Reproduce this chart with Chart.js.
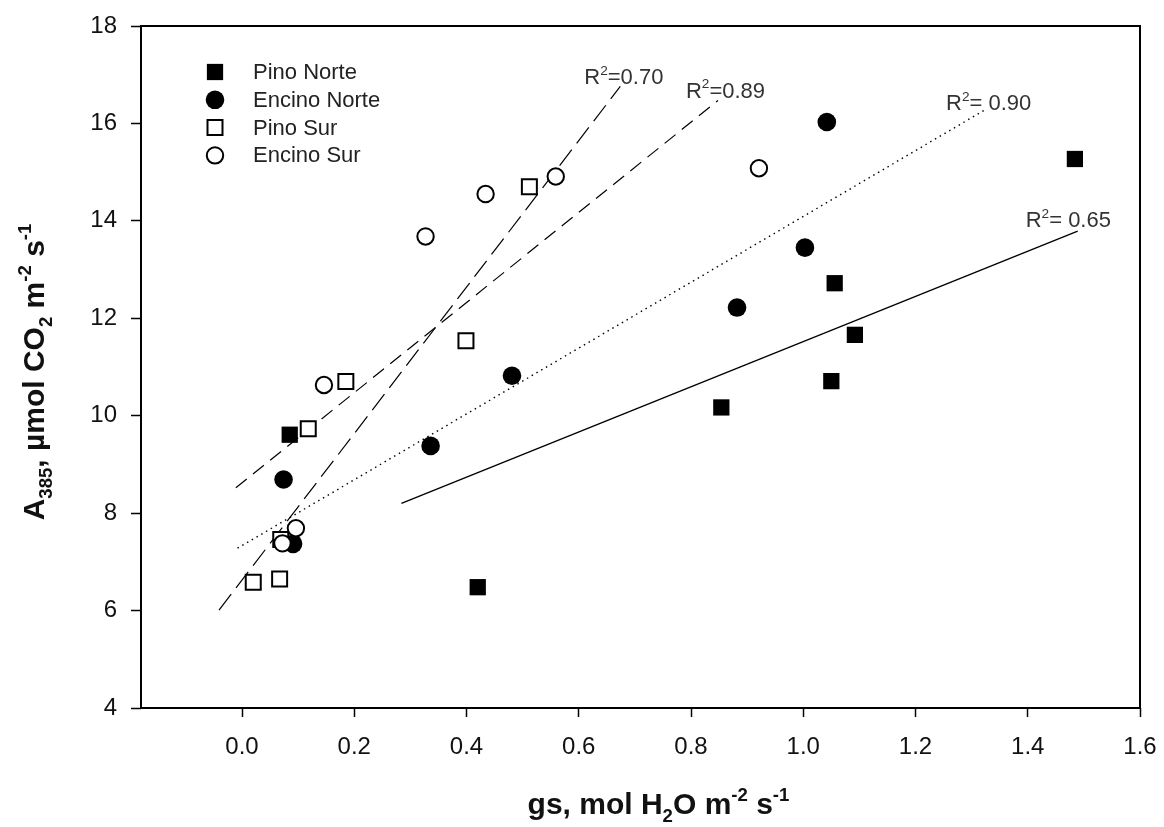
<!DOCTYPE html>
<html>
<head>
<meta charset="utf-8">
<script src="https://cdn.jsdelivr.net/npm/chart.js@4.4.1/dist/chart.umd.min.js"></script>
<style>
  html, body { margin: 0; padding: 0; background: #fff; }
  #grafico { display: block; }
</style>
</head>
<body>
<canvas id="grafico" width="1164" height="827"></canvas>
<script>
// ---- datos: gs (x) y A385 (y) por sitio ----
const pinoNorteGs = [0.085, 0.420, 0.854, 1.050, 1.056, 1.092, 1.484];
const pinoNorteA  = [9.61, 6.48, 10.17, 10.71, 12.72, 11.66, 15.27];

const encinoNorteGs = [0.074, 0.091, 0.336, 0.481, 0.882, 1.003, 1.042];
const encinoNorteA  = [8.69, 7.37, 9.38, 10.82, 12.22, 13.45, 16.03];

const pinoSurGs = [0.020, 0.067, 0.069, 0.118, 0.185, 0.399, 0.512];
const pinoSurA  = [6.58, 6.65, 7.46, 9.73, 10.70, 11.54, 14.70];

const encinoSurGs = [0.072, 0.096, 0.146, 0.327, 0.434, 0.559, 0.921];
const encinoSurA  = [7.38, 7.69, 10.63, 13.68, 14.55, 14.91, 15.08];

// rectas de regresión (extremos x, extremos y) y su R²
const ajustePinoNorteX   = [0.284, 1.489];
const ajustePinoNorteY   = [8.20, 13.79];
const ajusteEncinoNorteX = [-0.008, 1.324];
const ajusteEncinoNorteY = [7.28, 16.28];
const ajustePinoSurX     = [-0.041, 0.674];
const ajustePinoSurY     = [6.01, 16.76];
const ajusteEncinoSurX   = [-0.011, 0.848];
const ajusteEncinoSurY   = [8.52, 16.47];

const etiquetasR2 = ["R²= 0.65", "R²= 0.90", "R²=0.70", "R²=0.89"];

const series = ["Pino Norte", "Encino Norte", "Pino Sur", "Encino Sur"];
const ticksX = [0.0, 0.2, 0.4, 0.6, 0.8, 1.0, 1.2, 1.4, 1.6];
const ticksY = [4, 6, 8, 10, 12, 14, 16, 18];

// une dos listas en puntos {x, y}
const pares = (xs, ys) => xs.map((x, i) => ({ x: x, y: ys[i] }));

const fuente = '"Liberation Sans", Arial, sans-serif';

// texto con subíndices / superíndices
function textoRico(ctx, partes, x, y, size, weight, family, align) {
  const tam = p => (p.sub || p.sup ? size * 0.62 : size);
  const medir = p => {
    ctx.font = weight + " " + tam(p) + "px " + family;
    return ctx.measureText(p.t).width;
  };
  const total = partes.reduce((acc, p) => acc + medir(p), 0);
  let cx = align === "center" ? x - total / 2 : x;
  ctx.textBaseline = "alphabetic";
  ctx.textAlign = "left";
  partes.forEach(p => {
    ctx.font = weight + " " + tam(p) + "px " + family;
    let dy = 0;
    if (p.sub) dy = size * 0.26;
    if (p.sup) dy = -size * 0.42;
    ctx.fillText(p.t, cx, y + dy);
    cx += ctx.measureText(p.t).width;
  });
}

function partesR2(texto) {
  // "R²=0.70" -> R, ², resto
  return [{ t: "R" }, { t: "2", sup: true }, { t: texto.slice(2) }];
}

// marcador igual al de los puntos del gráfico
function marcador(ctx, estilo, x, y) {
  ctx.save();
  ctx.lineWidth = estilo.borderWidth;
  ctx.strokeStyle = "#000";
  ctx.fillStyle = estilo.backgroundColor;
  Chart.helpers.drawPoint(ctx, {
    pointStyle: estilo.pointStyle,
    radius: estilo.pointRadius,
    rotation: 0,
    borderWidth: estilo.borderWidth
  }, x, y);
  ctx.restore();
}

const estilos = [
  { pointStyle: "rect", pointRadius: 11.5, backgroundColor: "#000", borderWidth: 0 },
  { pointStyle: "circle", pointRadius: 9.3, backgroundColor: "#000", borderWidth: 0 },
  { pointStyle: "rect", pointRadius: 10.6, backgroundColor: "#fff", borderWidth: 2 },
  { pointStyle: "circle", pointRadius: 8.2, backgroundColor: "#fff", borderWidth: 2 }
];

const marcoYTextos = {
  id: "marcoYTextos",
  afterDraw(chart) {
    const ctx = chart.ctx;
    const a = chart.chartArea;
    const sx = chart.scales.x, sy = chart.scales.y;

    // marco
    ctx.save();
    ctx.strokeStyle = "#000";
    ctx.lineWidth = 2;
    ctx.strokeRect(a.left, a.top, a.right - a.left, a.bottom - a.top);
    ctx.restore();

    // leyenda
    ctx.save();
    series.forEach((nombre, i) => {
      const y = a.top + 46 + i * 27.8;
      marcador(ctx, estilos[i], a.left + 74, y);
      ctx.fillStyle = "#222";
      ctx.font = "22px " + fuente;
      ctx.textAlign = "left";
      ctx.textBaseline = "middle";
      ctx.fillText(nombre, a.left + 112, y + 1);
    });
    ctx.restore();

    // etiquetas R² junto al extremo superior de cada recta
    const extremos = [
      [ajustePinoNorteX[1], ajustePinoNorteY[1], -52, -12],
      [ajusteEncinoNorteX[1], ajusteEncinoNorteY[1], -39, -8],
      [ajustePinoSurX[1], ajustePinoSurY[1], -36, -10],
      [ajusteEncinoSurX[1], ajusteEncinoSurY[1], -32, -11]
    ];
    ctx.save();
    ctx.fillStyle = "#333";
    extremos.forEach((e, i) => {
      const px = sx.getPixelForValue(e[0]) + e[2];
      const py = sy.getPixelForValue(e[1]) + e[3] + 8;
      textoRico(ctx, partesR2(etiquetasR2[i]), px, py, 22, "normal", fuente, "left");
    });
    ctx.restore();

    // títulos de ejes
    ctx.save();
    ctx.fillStyle = "#111";
    textoRico(ctx, [
      { t: "gs, mol H" }, { t: "2", sub: true }, { t: "O m" },
      { t: "-2", sup: true }, { t: " s" }, { t: "-1", sup: true }
    ], (a.left + a.right) / 2 + 18, 814, 30, "bold", fuente, "center");

    ctx.translate(44, 372);
    ctx.rotate(-Math.PI / 2);
    textoRico(ctx, [
      { t: "A" }, { t: "385", sub: true }, { t: ", µmol CO" }, { t: "2", sub: true },
      { t: " m" }, { t: "-2", sup: true }, { t: " s" }, { t: "-1", sup: true }
    ], 0, 0, 30, "bold", fuente, "center");
    ctx.restore();
  }
};

const puntos = (nombre, xs, ys, i) => ({
  type: "scatter",
  label: nombre,
  data: pares(xs, ys),
  borderColor: "#000",
  pointBorderColor: "#000",
  pointStyle: estilos[i].pointStyle,
  pointRadius: estilos[i].pointRadius,
  pointHoverRadius: estilos[i].pointRadius,
  pointBackgroundColor: estilos[i].backgroundColor,
  pointBorderWidth: estilos[i].borderWidth,
  order: 3 - i
});

const recta = (xs, ys, dash, ancho) => ({
  type: "line",
  data: pares(xs, ys),
  borderColor: "#000",
  borderWidth: ancho,
  borderDash: dash,
  pointRadius: 0,
  fill: false,
  order: 10
});

new Chart(document.getElementById("grafico"), {
  type: "scatter",
  data: {
    datasets: [
      puntos(series[0], pinoNorteGs, pinoNorteA, 0),
      puntos(series[1], encinoNorteGs, encinoNorteA, 1),
      puntos(series[2], pinoSurGs, pinoSurA, 2),
      puntos(series[3], encinoSurGs, encinoSurA, 3),
      recta(ajustePinoNorteX, ajustePinoNorteY, [], 1.4),
      recta(ajusteEncinoNorteX, ajusteEncinoNorteY, [1.5, 4], 1.4),
      recta(ajustePinoSurX, ajustePinoSurY, [20, 8], 1.2),
      recta(ajusteEncinoSurX, ajusteEncinoSurY, [14, 8], 1.2)
    ]
  },
  options: {
    responsive: false,
    animation: false,
    devicePixelRatio: 1,
    layout: { padding: { top: 26, right: 24, left: 0, bottom: 0 } },
    plugins: { legend: { display: false }, tooltip: { enabled: false } },
    scales: {
      x: {
        type: "linear",
        min: -0.18,
        max: 1.6,
        afterBuildTicks: s => { s.ticks = ticksX.map(v => ({ value: v })); },
        afterFit: s => { s.height = 119; s.paddingLeft = 0; s.paddingRight = 0; },
        border: { display: false },
        grid: { drawOnChartArea: false, drawTicks: true, tickLength: 9, tickWidth: 1.5, tickColor: "#000" },
        ticks: {
          autoSkip: false, maxRotation: 0, padding: 16, color: "#111",
          font: { family: fuente, size: 24 },
          callback: v => v.toFixed(1)
        }
      },
      y: {
        type: "linear",
        min: 4,
        max: 18,
        afterBuildTicks: s => { s.ticks = ticksY.map(v => ({ value: v })); },
        afterFit: s => { s.width = 141; s.paddingTop = 0; s.paddingBottom = 0; },
        border: { display: false },
        grid: { drawOnChartArea: false, drawTicks: true, tickLength: 10, tickWidth: 1.5, tickColor: "#000" },
        ticks: {
          autoSkip: false, padding: 14, color: "#111",
          font: { family: fuente, size: 24 },
          callback: v => String(v)
        }
      }
    }
  },
  plugins: [marcoYTextos]
});
</script>
</body>
</html>
